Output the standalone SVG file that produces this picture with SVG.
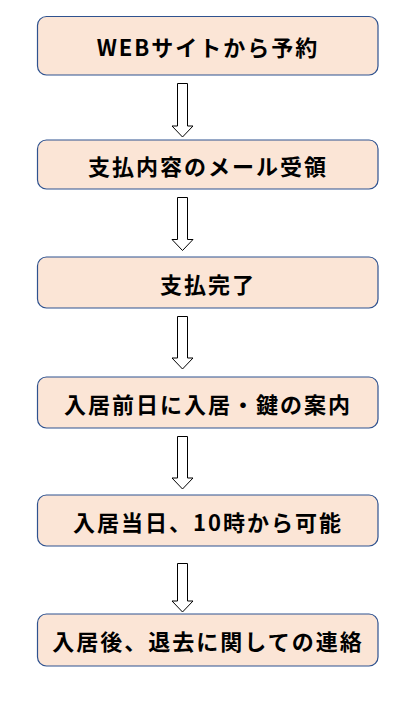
<svg xmlns="http://www.w3.org/2000/svg" width="411" height="702" viewBox="0 0 411 702">
<style>
.box{fill:#FBE5D6;stroke:#2F528F;stroke-width:1.2}
.lbl{font-family:"Noto Sans CJK JP","Noto Sans",sans-serif;font-weight:bold;font-size:22px;fill:#000;text-anchor:middle;dominant-baseline:central;letter-spacing:2px}
.arr{fill:#fff;stroke:#000;stroke-width:1}
</style>
<rect width="411" height="702" fill="#fff"/>
<g id="n1"><rect class="box" x="37.5" y="16.5" width="340.5" height="58.5" rx="9"/><text class="lbl" x="208" y="46">WEBサイトから予約</text></g>
<g id="n2"><rect class="box" x="37.5" y="140" width="340.5" height="49" rx="9"/><text class="lbl" x="208" y="164.5">支払内容のメール受領</text></g>
<g id="n3"><rect class="box" x="37.5" y="257" width="340.5" height="51" rx="9"/><text class="lbl" x="208" y="282.5">支払完了</text></g>
<g id="n4"><rect class="box" x="37.5" y="377" width="340.5" height="51" rx="9"/><text class="lbl" x="208" y="402.5">入居前日に入居・鍵の案内</text></g>
<g id="n5"><rect class="box" x="37.5" y="495" width="340.5" height="51" rx="9"/><text class="lbl" x="208" y="520.5">入居当日、10時から可能</text></g>
<g id="n6"><rect class="box" x="37.5" y="614" width="340.5" height="52" rx="9"/><text class="lbl" x="208" y="640">入居後、退去に関しての連絡</text></g>
<g id="connectors">
<path class="arr" d="M177.5 83.5H187.5V126H193L182.5 137L172 126H177.5Z"/>
<path class="arr" d="M177.5 197.5H187.5V239.5H193L182.5 250.5L172 239.5H177.5Z"/>
<path class="arr" d="M177.5 316.5H187.5V358H193L182.5 369L172 358H177.5Z"/>
<path class="arr" d="M177.5 436.5H187.5V478H193L182.5 489L172 478H177.5Z"/>
<path class="arr" d="M177.5 563.5H187.5V601H193L182.5 612L172 601H177.5Z"/>
</g>
</svg>
